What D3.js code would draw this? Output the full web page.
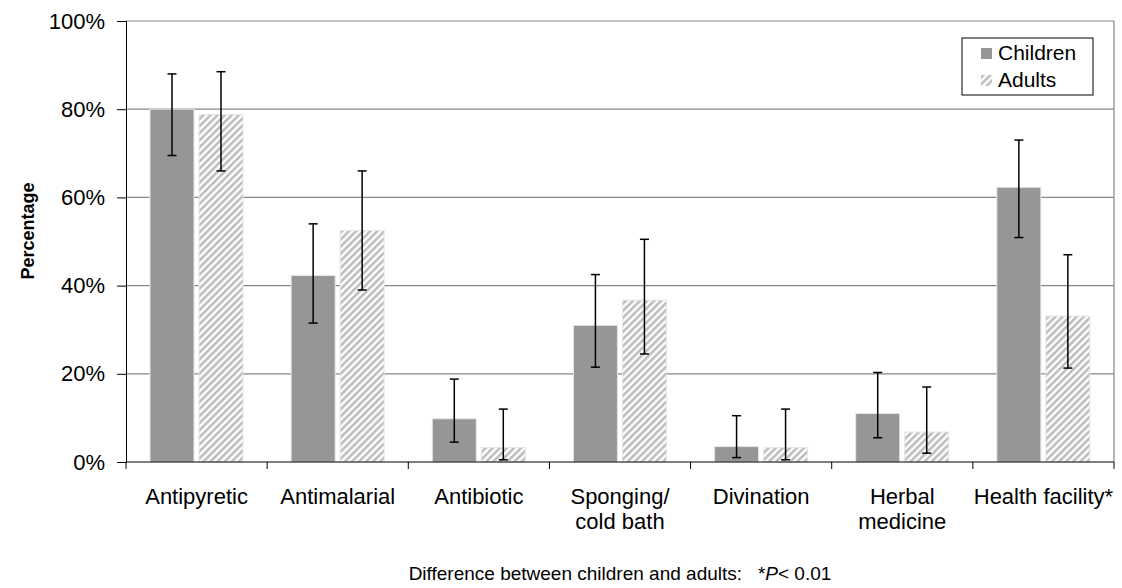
<!DOCTYPE html>
<html lang="en">
<head>
<meta charset="UTF-8" />
<title>Treatment by group</title>
<style>
  body { margin: 0; background: #fff; }
  text { font-family: "Liberation Sans", Arial, sans-serif; fill: #000; }
</style>
</head>
<body>
<div id="chart"></div>
<script src="https://d3js.org/d3.v7.min.js"></script>
<script>
// categories (label lines) and values
var categories = [["Antipyretic"], ["Antimalarial"], ["Antibiotic"], ["Sponging/", "cold bath"],
                  ["Divination"], ["Herbal", "medicine"], ["Health facility*"]];
var groups = ["Children", "Adults"];
var childrenVals = [80, 42.3, 9.8, 31, 3.5, 11, 62.3];
var childrenLow  = [69.5, 31.5, 4.5, 21.5, 1, 5.5, 50.9];
var childrenHigh = [88, 54, 18.8, 42.5, 10.5, 20.3, 73];
var adultVals = [78.8, 52.5, 3.3, 36.7, 3.3, 6.8, 33.1];
var adultLow  = [66, 39, 0.5, 24.5, 0.5, 2, 21.3];
var adultHigh = [88.5, 66, 12, 50.5, 12, 17, 47];
var yTicks = [0, 20, 40, 60, 80, 100];

var W = 1122, H = 588;
var m = { left: 126, right: 8, top: 21, bottom: 126 };
var iw = W - m.left - m.right, ih = H - m.top - m.bottom;

var svg = d3.select("#chart").append("svg")
  .attr("width", W).attr("height", H);

// hatch for adults
var defs = svg.append("defs");
var pat = defs.append("pattern")
  .attr("id", "hatch").attr("patternUnits", "userSpaceOnUse")
  .attr("width", 5).attr("height", 5)
  .attr("patternTransform", "rotate(45)");
pat.append("rect").attr("width", 5).attr("height", 5).attr("fill", "#fff");
pat.append("rect").attr("width", 2.6).attr("height", 5).attr("fill", "#bdbdbd");

var g = svg.append("g").attr("transform", "translate(" + m.left + "," + m.top + ")");

var x = d3.scaleBand().domain(d3.range(categories.length)).range([0, iw]);
var y = d3.scaleLinear().domain([0, 100]).range([ih, 0]);

// gridlines
g.selectAll(".grid").data(yTicks.slice(1)).enter().append("line")
  .attr("x1", 0).attr("x2", iw)
  .attr("y1", function(d) { return y(d); }).attr("y2", function(d) { return y(d); })
  .attr("stroke", "#868686").attr("stroke-width", 1.2);
// right border
g.append("line").attr("x1", iw).attr("x2", iw).attr("y1", 0).attr("y2", ih)
  .attr("stroke", "#868686").attr("stroke-width", 1.2);

var barW = 44, gap = 5, off = 24;
var series = [
  { vals: childrenVals, lo: childrenLow, hi: childrenHigh, fill: "#969696", dx: off },
  { vals: adultVals, lo: adultLow, hi: adultHigh, fill: "url(#hatch)", dx: off + barW + gap }
];

series.forEach(function(s) {
  g.selectAll(null).data(s.vals).enter().append("rect")
    .attr("x", function(d, i) { return x(i) + s.dx; })
    .attr("y", function(d) { return y(d); })
    .attr("width", barW)
    .attr("height", function(d) { return ih - y(d); })
    .attr("fill", s.fill)
    .attr("stroke", "#e6e6e6").attr("stroke-width", 1);
});

series.forEach(function(s) {
  var eb = g.selectAll(null).data(s.vals).enter().append("g")
    .attr("transform", function(d, i) { return "translate(" + (x(i) + s.dx + barW / 2) + ",0)"; });
  eb.append("line")
    .attr("y1", function(d, i) { return y(s.lo[i]); })
    .attr("y2", function(d, i) { return y(s.hi[i]); })
    .attr("stroke", "#000").attr("stroke-width", 1.5);
  [s.lo, s.hi].forEach(function(arr) {
    eb.append("line").attr("x1", -4.5).attr("x2", 4.5)
      .attr("y1", function(d, i) { return y(arr[i]); })
      .attr("y2", function(d, i) { return y(arr[i]); })
      .attr("stroke", "#000").attr("stroke-width", 1.5);
  });
});

// y axis
var yAxis = d3.axisLeft(y).tickValues(yTicks).tickSize(9).tickPadding(12)
  .tickFormat(function(d) { return d + "%"; });
var ya = g.append("g").call(yAxis);
ya.select(".domain").attr("stroke", "#000");
ya.selectAll("text").style("font-size", "22px");

// x axis with ticks at band edges
var xa = g.append("g").attr("transform", "translate(0," + ih + ")");
xa.append("line").attr("x1", 0).attr("x2", iw).attr("stroke", "#000").attr("stroke-width", 1.2);
xa.selectAll(".tk").data(d3.range(categories.length + 1)).enter().append("line")
  .attr("x1", function(d) { return d * x.step(); }).attr("x2", function(d) { return d * x.step(); })
  .attr("y1", 0).attr("y2", 7).attr("stroke", "#000");

var lbl = xa.selectAll(".lbl").data(categories).enter().append("text")
  .attr("text-anchor", "middle")
  .attr("transform", function(d, i) { return "translate(" + (x(i) + x.bandwidth() / 2) + ",42)"; })
  .style("font-size", "22px");
lbl.selectAll("tspan").data(function(d) { return d; }).enter().append("tspan")
  .attr("x", 0).attr("dy", function(d, i) { return i === 0 ? 0 : 25; })
  .text(function(d) { return d; });

// y title
svg.append("text")
  .attr("transform", "translate(34,231) rotate(-90)")
  .attr("text-anchor", "middle")
  .style("font-size", "18px").style("font-weight", "bold")
  .text("Percentage");

// legend
var lg = svg.append("g").attr("transform", "translate(962,38)");
lg.append("rect").attr("width", 131).attr("height", 57)
  .attr("fill", "#fff").attr("stroke", "#000").attr("stroke-width", 1);
groups.forEach(function(name, i) {
  lg.append("rect").attr("x", 19).attr("y", 10 + i * 27).attr("width", 11).attr("height", 11)
    .attr("fill", i === 0 ? "#969696" : "url(#hatch)");
  lg.append("text").attr("x", 36).attr("y", 22 + i * 27)
    .style("font-size", "21px").text(name);
});

// footnote
var fn = svg.append("text").attr("x", 620).attr("y", 580).attr("text-anchor", "middle")
  .style("font-size", "19px");
fn.append("tspan").attr("xml:space", "preserve").text("Difference between children and adults:   *");
fn.append("tspan").style("font-style", "italic").text("P");
fn.append("tspan").text("< 0.01");
</script>
</body>
</html>
